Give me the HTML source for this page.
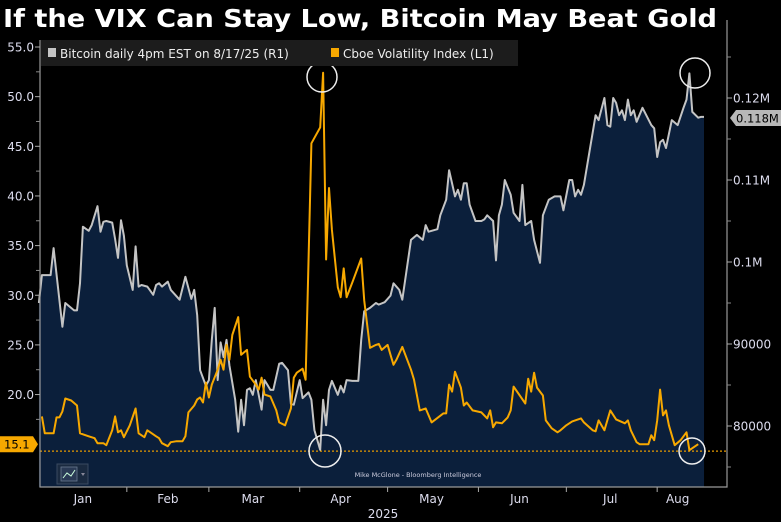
<!DOCTYPE html>
<html><head><meta charset="utf-8"><style>
body{margin:0;background:#000;}
svg{display:block;font-family:"DejaVu Sans","Liberation Sans",sans-serif;}
</style></head><body>
<svg id="chart" width="781" height="522" viewBox="0 0 781 522" xmlns="http://www.w3.org/2000/svg">
<rect width="781" height="522" fill="#000"/>
<text x="3" y="27" font-size="25" font-weight="bold" fill="#fff" textLength="714" lengthAdjust="spacingAndGlyphs">If the VIX Can Stay Low, Bitcoin May Beat Gold</text>
<g id="plot"></g>
</svg>
<script>
const btcDays=[1,2,5,6,9,10,13,14,15,16,18,19,21,22,23,24,26,27,28,29,30,31,33,34,35,36,38,40,41,42,43,45,46,49,51,53,54,55,56,58,59,60,61,62,63,64,65,66,68,69,70,71,72,73,74,75,77,78,79,80,81,83,84,86,87,88,90,91,93,94,95,97,98,99,100,101,103,104,105,106,108,110,111,112,114,116,117,119,121,122,124,125,128,130,132,133,134,137,138,140,141,143,144,145,146,147,148,150,152,153,154,156,157,158,159,160,162,163,165,166,167,169,170,172,173,175,177,179,180,182,183,184,185,186,187,189,191,192,194,195,196,197,198,199,200,201,202,203,204,205,207,210,211,212,213,214,215,217,219,221,222,223,224,226,227,228];
const btcValues=[95.0,98.4,98.4,101.7,92.1,95.0,94.1,94.1,97.4,104.3,103.8,104.5,106.8,103.7,104.9,105.0,104.8,102.8,100.5,105.1,103.2,99.6,96.6,101.9,97.0,97.2,97.0,96.0,97.2,97.4,97.0,97.6,96.6,95.4,98.2,95.5,96.6,93.5,86.8,84.9,85.6,90.5,94.4,85.6,90.2,88.4,90.5,87.4,83.2,79.3,83.2,80.1,84.4,84.6,83.8,85.6,82.0,85.6,85.0,84.4,84.4,87.6,87.7,86.8,82.7,82.6,85.6,83.4,84.1,83.2,79.5,77.1,83.2,80.1,84.4,85.5,83.8,84.9,84.1,85.6,85.5,85.5,90.5,94.0,94.4,95.0,94.8,95.1,95.9,97.4,96.6,95.4,102.7,103.3,102.7,104.5,103.7,104.0,105.7,107.6,111.2,108.0,108.8,107.6,109.6,109.6,107.0,105.0,105.0,105.2,105.7,105.0,100.2,105.7,107.0,110.0,108.2,106.0,105.0,109.4,104.5,105.0,102.7,99.9,105.7,107.6,108.0,108.0,106.3,110.0,110.0,108.0,108.8,108.2,109.4,113.7,117.9,117.3,120.0,116.7,116.5,120.0,119.4,117.9,118.5,117.3,119.8,117.9,118.5,117.1,118.8,116.7,116.3,112.8,114.6,114.9,113.9,117.3,116.7,118.8,119.8,123.0,118.3,117.6,117.7,117.7];
const vixDays=[2,3,6,7,8,9,10,12,14,15,17,18,20,21,23,24,26,27,28,29,30,32,34,35,37,38,39,41,42,43,45,46,48,50,51,52,54,55,56,57,58,59,60,62,63,64,65,66,67,69,70,72,73,75,76,77,78,80,82,83,85,87,88,89,91,92,94,97,98,99,100,101,103,104,105,106,108,111,112,114,116,117,118,120,121,122,123,125,128,129,131,133,135,139,140,141,142,143,145,146,147,149,152,154,155,156,157,159,161,162,163,167,168,169,170,171,173,174,176,178,179,181,183,184,186,187,190,191,192,194,196,198,201,202,203,205,206,208,209,210,211,212,213,214,215,216,218,220,222,223,224,226];
const vixValues=[17.8,16.1,16.1,17.7,17.7,18.3,19.6,19.4,18.9,16.1,15.9,15.8,15.6,15.1,15.1,14.9,16.4,17.8,16.2,16.4,15.7,16.9,18.6,16.1,15.7,16.4,16.2,15.8,15.6,15.1,14.8,15.2,15.3,15.3,15.8,18.2,18.9,19.5,19.7,19.2,21.2,19.7,21.0,22.5,23.5,22.5,25.0,23.5,26.0,27.8,24.0,24.5,21.8,21.0,20.5,21.7,20.0,19.8,18.4,17.2,16.9,18.6,21.7,22.2,22.6,21.5,45.3,46.9,52.4,33.6,40.8,36.6,30.8,29.8,32.7,29.8,31.3,33.7,29.5,24.7,25.0,25.1,24.5,25.0,24.0,23.0,23.5,24.8,22.5,21.5,18.4,18.6,17.2,18.1,18.1,21.0,20.3,22.3,20.7,18.9,19.2,18.4,18.2,17.6,18.4,16.7,17.2,17.1,17.7,18.4,20.8,19.1,21.6,20.3,22.2,20.7,19.9,17.4,16.6,16.2,16.4,16.9,17.3,17.4,17.6,17.2,16.4,16.3,17.4,16.4,18.4,17.5,17.1,17.4,16.4,15.2,15.0,15.0,15.0,15.9,15.4,17.4,20.5,17.9,18.4,16.9,14.9,15.4,16.2,14.4,14.6,15.0];
const leftTicks=[55,50,45,40,35,30,25,20];
const leftTickLabels=["55.0","50.0","45.0","40.0","35.0","30.0","25.0","20.0"];
const rightTicks=[120,110,100,90,80];
const rightTickLabels=["0.12M","0.11M","0.1M","90000","80000"];
const monthStarts=[31,59,90,120,151,181,212];
const monthLabelDays=[16,45,74,104,135,165,196,219];
const monthLabels=["Jan","Feb","Mar","Apr","May","Jun","Jul","Aug"];
const lastVix=15.1, lastBtc="0.118M", minVixLine=14.3;

const NS="http://www.w3.org/2000/svg";
const X0=40,X1=727,YB=487;
const xS=d=>36+d*2.93;
const yL=v=>47+(55-v)*9.93;
const yR=v=>98+(120-v)*8.2;
const g=document.getElementById('plot');
function mk(tag,attrs,txt){const e=document.createElementNS(NS,tag);for(const k in attrs)e.setAttribute(k,attrs[k]);if(txt!==undefined)e.textContent=txt;g.appendChild(e);return e;}

let pts=btcDays.map((d,i)=>xS(d).toFixed(1)+','+yR(btcValues[i]).toFixed(1));
let area=mk('path',{d:'M'+xS(btcDays[0])+','+YB+' L'+pts.join(' L')+' L'+xS(btcDays[btcDays.length-1])+','+YB+' Z',fill:'#0b1f3b'});



let dl=mk('line',{x1:X0,x2:X1,y1:yL(minVixLine),y2:yL(minVixLine),stroke:'#e69a00','stroke-width':1.3,'stroke-dasharray':'2,2'});



let bl=mk('polyline',{points:pts.join(' '),fill:'none',stroke:'#c4c4c4','stroke-width':2,'stroke-linejoin':'round'});


let vp=vixDays.map((d,i)=>xS(d).toFixed(1)+','+yL(vixValues[i]).toFixed(1));
let vl=mk('polyline',{points:vp.join(' '),fill:'none',stroke:'#f7a800','stroke-width':2,'stroke-linejoin':'round'});



[[322,77,15],[325,451,16],[695,73,15],[692,451,13]].forEach(c=>{
 let e=mk('circle',{cx:c[0],cy:c[1],r:c[2],fill:'none',stroke:'#eee','stroke-width':1.5});
 
 
});

let ax=mk('path',{d:`M${X0},40 L${X0},${YB} L${X1},${YB} L${X1},20`,fill:'none',stroke:'#9a9a9a','stroke-width':1.2});


leftTicks.forEach((v,i)=>{
 mk('line',{x1:X0-5,x2:X0,y1:yL(v),y2:yL(v),stroke:'#aaa'});
 mk('line',{x1:X0-4,x2:X0,y1:yL(v-2.5),y2:yL(v-2.5),stroke:'#888'});
 let t=mk('text',{x:X0-6,y:yL(v)+4.5,'font-size':12,fill:'#dde',"text-anchor":"end"},leftTickLabels[i]);
 
 
});
rightTicks.forEach((v,i)=>{
 mk('line',{x1:X1,x2:X1+5,y1:yR(v),y2:yR(v),stroke:'#aaa'});
 mk('line',{x1:X1,x2:X1+4,y1:yR(v+5),y2:yR(v+5),stroke:'#888'});
 let t=mk('text',{x:X1+6,y:yR(v)+4.5,'font-size':12,fill:'#dde'},rightTickLabels[i]);
 
 
});
mk('line',{x1:X1,x2:X1+4,y1:yR(75),y2:yR(75),stroke:'#888'});
monthStarts.forEach(d=>mk('line',{x1:xS(d),x2:xS(d),y1:YB,y2:YB+5,stroke:'#aaa'}));
monthLabels.forEach((m,i)=>{
 let t=mk('text',{x:xS(monthLabelDays[i]),y:503,'font-size':12,fill:'#dde','text-anchor':'middle'},m);
 
 
});
let yr=mk('text',{x:383,y:518,'font-size':12,fill:'#dde','text-anchor':'middle'},'2025');



let vy=yL(lastVix)+1;
let vt=mk('path',{d:`M0,${vy-8} L33,${vy-8} L38,${vy} L33,${vy+8} L0,${vy+8} Z`,fill:'#f7a800'});


mk('text',{x:4,y:vy+4.5,'font-size':11.5,fill:'#000'},String(lastVix));
let by=118;
let bt=mk('path',{d:`M730,${by} L736,${by-8} L781,${by-8} L781,${by+8} L736,${by+8} Z`,fill:'#b8b8b8'});


mk('text',{x:736,y:by+4.5,'font-size':11.5,fill:'#000'},lastBtc);

let lg=mk('rect',{x:41,y:40,width:477,height:26,fill:'#1c1c1c'});


mk('rect',{x:48,y:48,width:8,height:9,fill:'#c4c4c4'});
let l1=mk('text',{x:60,y:58,'font-size':12,fill:'#eee'},'Bitcoin daily 4pm EST on 8/17/25 (R1)');


mk('rect',{x:331,y:48,width:8,height:9,fill:'#f7a800'});
let l2=mk('text',{x:343,y:58,'font-size':12,fill:'#eee'},'Cboe Volatility Index (L1)');



let ib=mk('rect',{x:57,y:464,width:31,height:20,fill:'#1a2a40',stroke:'#3a4a60'});


mk('rect',{x:61,y:467,width:16,height:14,fill:'#2a3a55',stroke:'#6a7a90','stroke-width':0.8});
mk('polyline',{points:'63,478 67,473 71,476 75,470',fill:'none',stroke:'#cfd','stroke-width':1});
mk('path',{d:'M81,473 L85,473 L83,476 Z',fill:'#889'});
let wm=mk('text',{x:418,y:477,'font-size':6.5,fill:'#ccd','text-anchor':'middle'},'Mike McGlone - Bloomberg Intelligence');


</script>
</body></html>
